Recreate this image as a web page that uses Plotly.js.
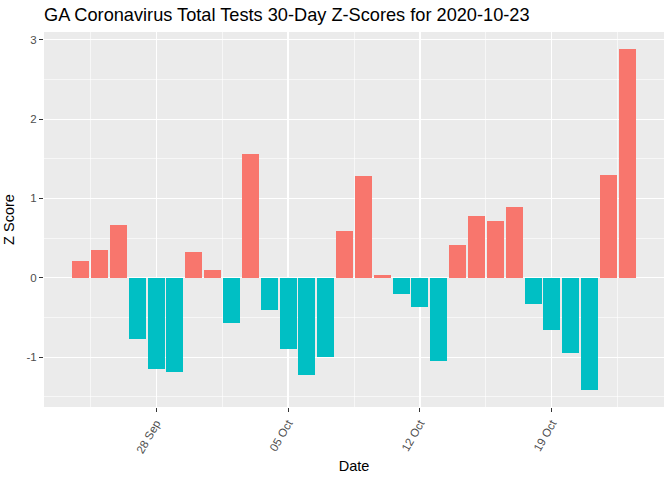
<!DOCTYPE html>
<html>
<head>
<meta charset="utf-8">
<script src="https://cdn.plot.ly/plotly-3.0.1.min.js"></script>
<style>html,body{margin:0;padding:0;background:#fff;}#chart{width:672px;height:480px;}</style>
</head>
<body>
<div id="chart"></div>
<script>
const dates = [
  "2020-09-24","2020-09-25","2020-09-26","2020-09-27","2020-09-28","2020-09-29","2020-09-30",
  "2020-10-01","2020-10-02","2020-10-03","2020-10-04","2020-10-05","2020-10-06","2020-10-07",
  "2020-10-08","2020-10-09","2020-10-10","2020-10-11","2020-10-12","2020-10-13","2020-10-14",
  "2020-10-15","2020-10-16","2020-10-17","2020-10-18","2020-10-19","2020-10-20","2020-10-21",
  "2020-10-22","2020-10-23"
];
const zScores = [
  0.21, 0.35, 0.665, -0.774, -1.153, -1.191, 0.324,
  0.097, -0.572, 1.561, -0.408, -0.901, -1.229, -1.002,
  0.589, 1.284, 0.034, -0.206, -0.366, -1.052, 0.412,
  0.779, 0.715, 0.892, -0.332, -0.661, -0.951, -1.418,
  1.296, 2.883
];
const posColor = "#F8766D";
const negColor = "#00BFC4";
const DAY = 86400000;

const trace = {
  type: "bar",
  x: dates,
  y: zScores,
  width: 0.9 * DAY,
  marker: { color: zScores.map(v => v >= 0 ? posColor : negColor), line: { width: 0 } },
  hoverinfo: "x+y",
  showlegend: false
};

const font = "Liberation Sans, Arial, sans-serif";
const layout = {
  width: 672,
  height: 480,
  margin: { l: 44, r: 8, t: 32, b: 73 },
  paper_bgcolor: "#FFFFFF",
  plot_bgcolor: "#EBEBEB",
  font: { family: font, color: "#000000" },
  showlegend: false,
  bargap: 0,
  title: {
    text: "GA Coronavirus Total Tests 30-Day Z-Scores for 2020-10-23",
    font: { family: font, size: 18.2, color: "#000000" },
    x: 0, xref: "paper", xanchor: "left",
    y: 1 - 15 / 480, yref: "container", yanchor: "middle"
  },
  xaxis: {
    type: "date",
    layer: "below traces",
    range: [new Date(Date.UTC(2020, 8, 24) - 1.945 * DAY).toISOString(),
            new Date(Date.UTC(2020, 9, 23) + 1.945 * DAY).toISOString()],
    tick0: "2020-09-28",
    dtick: 7 * DAY,
    tickformat: "%d %b",
    tickangle: -60,
    ticks: "outside",
    ticklen: 4,
    tickwidth: 1,
    tickcolor: "#333333",
    tickfont: { family: font, size: 11.5, color: "#4D4D4D" },
    showgrid: true,
    gridcolor: "#FFFFFF",
    gridwidth: 1.1,
    minor: { tick0: "2020-09-24 12:00", dtick: 3.5 * DAY, showgrid: true, gridcolor: "#FFFFFF", gridwidth: 0.6, ticks: "" },
    zeroline: false,
    showline: false,
    title: { text: "Date", font: { family: font, size: 14.5, color: "#000000" }, standoff: 6 }
  },
  yaxis: {
    layer: "below traces",
    range: [-1.629, 3.098],
    tickvals: [-1, 0, 1, 2, 3],
    ticktext: ["-1", "0", "1", "2", "3"],
    ticks: "outside",
    ticklen: 4,
    tickwidth: 1,
    tickcolor: "#333333",
    tickfont: { family: font, size: 11.5, color: "#4D4D4D" },
    showgrid: true,
    gridcolor: "#FFFFFF",
    gridwidth: 1.1,
    minor: { tickvals: [-1.5, -0.5, 0.5, 1.5, 2.5], showgrid: true, gridcolor: "#FFFFFF", gridwidth: 0.6, ticks: "" },
    zeroline: false,
    showline: false,
    title: { text: "Z Score", font: { family: font, size: 14.5, color: "#000000" }, standoff: 8 }
  }
};

Plotly.newPlot("chart", [trace], layout, { displayModeBar: false, staticPlot: true });
</script>
</body>
</html>
